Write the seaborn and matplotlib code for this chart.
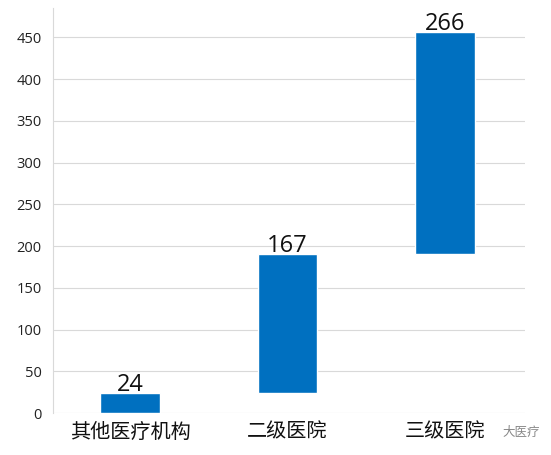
import numpy as np
import pandas as pd
import matplotlib
matplotlib.use("Agg")
import matplotlib.pyplot as plt
import seaborn as sns

categories = ["其他医疗机构", "二级医院", "三级医院"]
values = [24, 167, 266]
yticks = [0, 50, 100, 150, 200, 250, 300, 350, 400, 450]

sns.set_style("white")
plt.rcParams['font.family'] = ['Noto Sans CJK SC', 'DejaVu Sans']

bottoms = np.concatenate([[0], np.cumsum(values)[:-1]])
df = pd.DataFrame({"cat": categories, "value": values, "bottom": bottoms})

fig = plt.figure(figsize=(5.51, 4.55), dpi=100)
ax = fig.add_axes([0.096, 0.092, 0.857, 0.890])

sns.barplot(data=df, x="cat", y="value", bottom=df["bottom"].values,
            color="#0070C0", saturation=1, width=0.38, ax=ax)

# value labels sit right on top of each floating bar
for i, row in df.iterrows():
    ax.text(i, row["bottom"] + row["value"] + 2, str(row["value"]),
            ha="center", va="baseline", fontsize=17, color="#111111",
            family=["Open Sans", "DejaVu Sans"])

ax.set_ylim(0, 485)
ax.set_xlim(-0.49, 2.51)
ax.set_yticks(yticks)
ax.set_yticklabels([str(t) for t in yticks], family=["Open Sans", "DejaVu Sans"])
ax.yaxis.grid(True, color="#d9d9d9", linewidth=0.8)
ax.set_axisbelow(True)
ax.set_xlabel("")
ax.set_ylabel("")
ax.tick_params(axis="y", labelsize=10.5, length=0, pad=8, colors="#222222")
ax.tick_params(axis="x", labelsize=14.5, length=0, pad=6, colors="#111111")
for s in ["top", "right", "bottom"]:
    ax.spines[s].set_visible(False)
ax.spines["left"].set_color("#d9d9d9")
ax.spines["left"].set_linewidth(0.8)

fig.text(0.98, 0.05, "大医疗", ha="right", va="center", fontsize=9, color="#888888")

fig.savefig("out.png", dpi=100)
